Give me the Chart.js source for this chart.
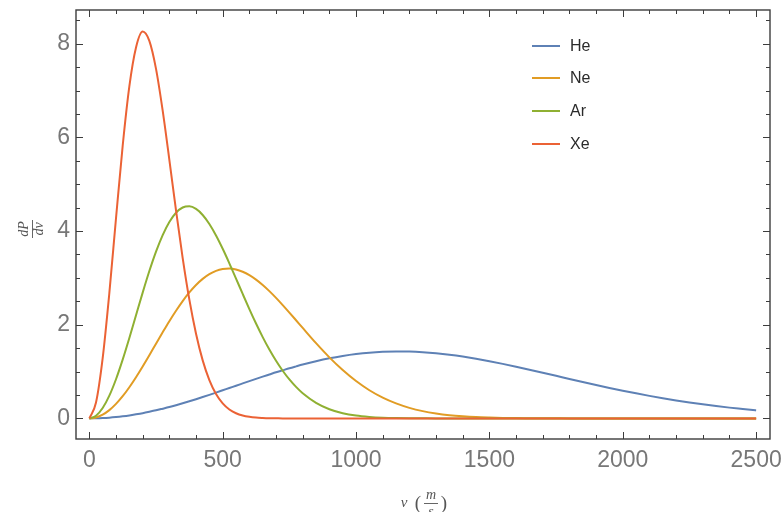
<!DOCTYPE html>
<html>
<head>
<meta charset="utf-8">
<script src="https://cdn.jsdelivr.net/npm/chart.js@4.4.1/dist/chart.umd.min.js"></script>
<style>
html,body{margin:0;padding:0;background:#ffffff;}
#wrap{width:783px;height:512px;position:relative;}
</style>
</head>
<body>
<div id="wrap"><canvas id="c" width="783" height="512"></canvas></div>
<script>
// ---- data ----
const speeds = [0,25,50,75,100,125,150,175,200,225,250,275,300,325,350,375,400,425,450,475,500,525,550,575,600,625,650,675,700,725,750,775,800,
  850,900,950,1000,1050,1100,1150,1200,1250,1300,1350,1400,1450,1500,1550,1600,1650,1700,1750,1800,1850,1900,1950,2000,2050,2100,2150,2200,2250,2300,2350,2400,2450,2500];

const heValues = [0,0.002,0.007,0.016,0.029,0.045,0.064,0.087,0.112,0.141,0.172,0.207,0.243,0.282,0.323,0.366,0.410,0.456,0.503,0.551,0.600,0.649,0.698,0.747,0.796,0.844,0.892,0.938,0.984,1.027,1.070,1.110,1.149,
  1.220,1.282,1.333,1.374,1.404,1.422,1.430,1.427,1.413,1.390,1.359,1.320,1.273,1.221,1.164,1.103,1.040,0.975,0.909,0.842,0.777,0.713,0.651,0.591,0.535,0.481,0.430,0.383,0.340,0.300,0.263,0.230,0.200,0.170];

const neValues = [0,0.020,0.080,0.177,0.310,0.474,0.666,0.880,1.110,1.350,1.596,1.839,2.076,2.299,2.505,2.689,2.848,2.979,3.080,3.151,3.190,3.199,3.179,3.131,3.059,2.964,2.849,2.718,2.574,2.420,2.260,2.096,1.931,
  1.606,1.303,1.032,0.797,0.601,0.443,0.320,0.225,0.155,0.105,0.069,0.045,0.028,0.018,0.011,0.006,0.004,0.002,0.001,0,0,0,0,0,0,0,0,0,0,0,0,0,0,0];

const arValues = [0,0.056,0.221,0.486,0.836,1.254,1.717,2.203,2.686,3.146,3.561,3.915,4.195,4.392,4.503,4.528,4.472,4.343,4.150,3.905,3.621,3.311,2.986,2.657,2.334,2.025,1.736,1.470,1.230,1.017,0.831,0.672,0.537,
  0.332,0.196,0.111,0.060,0.032,0.016,0.008,0.004,0.002,0,0,0,0,0,0,0,0,0,0,0,0,0,0,0,0,0,0,0,0,0,0,0,0,0];

const xeValues = [0,0.338,1.286,2.676,4.273,5.819,7.089,7.920,8.260,8.060,7.462,6.570,5.522,4.440,3.423,2.535,1.808,1.239,0.819,0.522,0.321,0.191,0.110,0.061,0.033,0.017,0.009,0.004,0.002,0,0,0,0,
  0,0,0,0,0,0,0,0,0,0,0,0,0,0,0,0,0,0,0,0,0,0,0,0,0,0,0,0,0,0,0,0,0,0];

const seriesNames = ['He','Ne','Ar','Xe'];
const seriesColors = ['#5E81B5','#E19C24','#8FB032','#EB6235'];
const xTickValues = [0,500,1000,1500,2000,2500];
const yTickValues = [0,2,4,6,8];

const allSeries = [heValues, neValues, arValues, xeValues];
const datasets = allSeries.map((vals, k) => ({
  label: seriesNames[k],
  data: speeds.map((v, i) => ({x: v, y: vals[i]})),
  borderColor: seriesColors[k],
  backgroundColor: seriesColors[k],
  borderWidth: 2,
  pointRadius: 0,
  fill: false,
  cubicInterpolationMode: 'monotone',
  order: 4 - k
}));

const FRAME = '#3c3c3c';

function zeroPad(s) { s.paddingTop = 0; s.paddingBottom = 0; s.paddingLeft = 0; s.paddingRight = 0; }

const decorPlugin = {
  id: 'decor',
  afterDatasetsDraw(chart) {
    const {ctx, chartArea: a, scales: {x, y}} = chart;
    ctx.save();
    ctx.strokeStyle = FRAME;
    ctx.lineWidth = 1.4;
    ctx.strokeRect(a.left, a.top, a.right - a.left, a.bottom - a.top);
    ctx.lineWidth = 1;
    ctx.beginPath();
    for (let v = 0; v <= x.max; v += 100) {
      const px = Math.round(x.getPixelForValue(v)) + 0.5;
      const len = (v % 500 === 0) ? 7 : 4;
      ctx.moveTo(px, a.bottom); ctx.lineTo(px, a.bottom - len);
      ctx.moveTo(px, a.top); ctx.lineTo(px, a.top + len);
    }
    for (let v = 0; v <= y.max; v += 0.5) {
      const py = Math.round(y.getPixelForValue(v)) + 0.5;
      const len = (v % 2 === 0) ? 7 : 4;
      ctx.moveTo(a.left, py); ctx.lineTo(a.left + len, py);
      ctx.moveTo(a.right, py); ctx.lineTo(a.right - len, py);
    }
    ctx.stroke();
    ctx.restore();
  },
  afterDraw(chart) {
    const {ctx} = chart;
    ctx.save();
    // legend
    ctx.font = '16px "Liberation Sans", Arial, sans-serif';
    ctx.textBaseline = 'middle';
    ctx.textAlign = 'left';
    const ly = [46, 78, 111, 144];
    chart.data.datasets.forEach((ds, i) => {
      ctx.strokeStyle = ds.borderColor;
      ctx.lineWidth = 2;
      ctx.beginPath();
      ctx.moveTo(532, ly[i]); ctx.lineTo(560, ly[i]);
      ctx.stroke();
      ctx.fillStyle = '#2a2a2a';
      ctx.fillText(ds.label, 570, ly[i] + 1);
    });

    // y axis title: dP/dv, rotated
    ctx.save();
    ctx.translate(32, 229);
    ctx.rotate(-Math.PI / 2);
    ctx.fillStyle = '#555';
    ctx.strokeStyle = '#555';
    ctx.font = 'italic 14px "Liberation Serif", "Times New Roman", serif';
    ctx.textAlign = 'center';
    ctx.textBaseline = 'alphabetic';
    ctx.fillText('dP', 0, -4);
    ctx.fillText('dv', 0, 11);
    ctx.lineWidth = 0.9;
    ctx.beginPath(); ctx.moveTo(-9, 0.5); ctx.lineTo(9, 0.5); ctx.stroke();
    ctx.restore();

    // x axis title: v (m/s)
    ctx.fillStyle = '#555';
    ctx.strokeStyle = '#555';
    ctx.textBaseline = 'alphabetic';
    ctx.textAlign = 'center';
    ctx.font = 'italic 15px "Liberation Serif", "Times New Roman", serif';
    ctx.fillText('v', 404, 507);
    ctx.font = '19px "Liberation Serif", "Times New Roman", serif';
    ctx.fillText('(', 418, 509);
    ctx.fillText(')', 444, 509);
    ctx.font = 'italic 14px "Liberation Serif", "Times New Roman", serif';
    ctx.fillText('m', 431, 499);
    ctx.fillText('s', 431, 516);
    ctx.lineWidth = 0.9;
    ctx.beginPath(); ctx.moveTo(424, 503.5); ctx.lineTo(438, 503.5); ctx.stroke();
    ctx.restore();
  }
};

new Chart(document.getElementById('c'), {
  type: 'line',
  data: {datasets},
  options: {
    responsive: false,
    animation: false,
    devicePixelRatio: 1,
    layout: {padding: {left: 0, top: 10, right: 13, bottom: 0}},
    plugins: {legend: {display: false}, tooltip: {enabled: false}},
    scales: {
      x: {
        type: 'linear',
        min: -50, max: 2552,
        grid: {display: false, drawTicks: false, tickLength: 0},
        border: {display: false},
        afterBuildTicks: s => { s.ticks = xTickValues.map(v => ({value: v})); },
        afterFit: s => { s.height = 73; zeroPad(s); },
        ticks: {
          autoSkip: false, maxRotation: 0, padding: 8,
          color: '#777',
          font: {family: '"Liberation Sans", Arial, sans-serif', size: 23},
          callback: v => String(v)
        }
      },
      y: {
        type: 'linear',
        min: -0.44, max: 8.72,
        grid: {display: false, drawTicks: false, tickLength: 0},
        border: {display: false},
        afterBuildTicks: s => { s.ticks = yTickValues.map(v => ({value: v})); },
        afterFit: s => { s.width = 76; zeroPad(s); },
        ticks: {
          padding: 6,
          color: '#777',
          font: {family: '"Liberation Sans", Arial, sans-serif', size: 23},
          callback: v => String(v)
        }
      }
    }
  },
  plugins: [decorPlugin]
});
</script>
</body>
</html>
